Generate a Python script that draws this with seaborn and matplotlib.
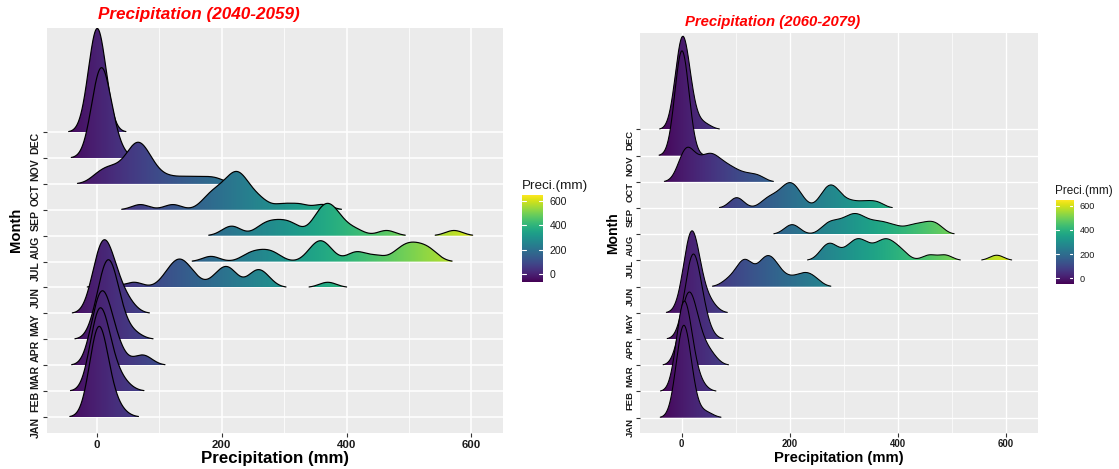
import numpy as np
import pandas as pd
import matplotlib
matplotlib.use("Agg")
import matplotlib.pyplot as plt
import seaborn as sns
from matplotlib.patches import Polygon
from matplotlib.colors import Normalize

# ---------------- data ----------------
MONTHS = ["JAN", "FEB", "MAR", "APR", "MAY", "JUN", "JUL", "AUG", "SEP", "OCT", "NOV", "DEC"]
X_TICKS = [0, 200, 400, 600]
X_MINOR = [100, 300, 500]
LEGEND_TICKS = [0, 200, 400, 600]
TITLES = ["Precipitation (2040-2059)", "Precipitation (2060-2079)"]
X_LABEL = "Precipitation (mm)"
Y_LABEL = "Month"
LEGEND_TITLE = "Preci.(mm)"

# monthly precipitation (mm), one value per year, 2040-2059
P40_JAN = [0, 0, 0, 0, 0, 0, 0, 0, 1, 2, 3, 4, 5, 6, 8, 10, 13, 17, 24, 36]
P40_FEB = [0, 0, 0, 0, 0, 0, 1, 2, 3, 5, 6, 8, 10, 12, 14, 17, 20, 25, 32, 45]
P40_MAR = [0, 0, 0, 0, 2, 4, 5, 7, 9, 10, 12, 14, 16, 18, 21, 25, 30, 38, 70, 78]
P40_APR = [0, 3, 7, 10, 12, 14, 15, 17, 18, 19, 20, 21, 22, 24, 26, 28, 31, 35, 42, 60]
P40_MAY = [0, 0, 0, 2, 4, 6, 8, 10, 12, 14, 15, 17, 19, 21, 24, 27, 31, 36, 44, 53]
P40_JUN = [15, 60, 110, 120, 126, 131, 135, 140, 147, 158, 190, 200, 208, 212, 218, 250, 256, 262, 272, 370]
P40_JUL = [183, 242, 258, 272, 286, 344, 352, 358, 365, 372, 410, 422, 448, 480, 492, 500, 508, 518, 528, 538]
P40_AUG = [210, 222, 262, 274, 285, 296, 307, 318, 348, 356, 362, 366, 370, 374, 379, 386, 395, 415, 464, 572]
P40_SEP = [70, 122, 175, 184, 192, 200, 207, 213, 218, 222, 225, 228, 232, 237, 244, 254, 266, 298, 325, 362]
P40_OCT = [0, 12, 22, 30, 42, 50, 55, 59, 63, 66, 69, 72, 76, 81, 88, 97, 118, 142, 166, 190]
P40_NOV = [0, 0, 0, 1, 2, 3, 4, 5, 6, 7, 8, 9, 10, 11, 12, 14, 16, 19, 25, 32]
P40_DEC = [0, 0, 0, 0, 0, 0, 0, 0, 0, 0, 0, 0, 1, 1, 1, 2, 2, 3, 4, 5]

# monthly precipitation (mm), one value per year, 2060-2079
P60_JAN = [0, 0, 0, 0, 0, 0, 0, 1, 2, 3, 4, 5, 6, 7, 8, 9, 11, 14, 20, 45]
P60_FEB = [0, 0, 0, 0, 0, 0, 1, 2, 3, 4, 5, 6, 7, 8, 10, 12, 14, 17, 22, 35]
P60_MAR = [0, 0, 3, 6, 8, 10, 12, 13, 14, 15, 16, 18, 20, 22, 25, 28, 33, 40, 48, 58]
P60_APR = [5, 10, 13, 15, 17, 18, 19, 20, 21, 21, 22, 23, 24, 25, 27, 29, 32, 36, 40, 47]
P60_MAY = [4, 8, 11, 13, 15, 16, 17, 18, 19, 19, 20, 21, 22, 23, 25, 28, 32, 37, 45, 56]
P60_JUN = [85, 103, 109, 114, 119, 123, 127, 145, 150, 154, 158, 163, 170, 172, 180, 195, 212, 226, 234, 248]
P60_JUL = [262, 270, 277, 286, 306, 316, 323, 329, 336, 345, 358, 368, 375, 381, 388, 398, 410, 458, 488, 583]
P60_AUG = [199, 210, 266, 277, 289, 301, 311, 318, 325, 333, 343, 356, 368, 381, 398, 421, 437, 452, 464, 476]
P60_SEP = [100, 104, 155, 168, 180, 190, 196, 201, 206, 212, 222, 260, 268, 274, 279, 285, 295, 316, 340, 362]
P60_OCT = [0, 3, 6, 9, 12, 16, 22, 30, 38, 45, 50, 55, 60, 66, 74, 82, 92, 104, 122, 142]
P60_NOV = [0, 0, 0, 0, 0, 0, 0, 0, 0, 0, 0, 0, 0, 0, 1, 1, 2, 2, 3, 4]
P60_DEC = [0, 0, 0, 0, 0, 0, 0, 0, 0, 0, 0, 1, 2, 3, 4, 6, 9, 14, 20, 42]


def to_long(period, lists):
    rows = []
    for m, vals in zip(MONTHS, lists):
        rows += [(period, m, float(v)) for v in vals]
    return pd.DataFrame(rows, columns=["period", "month", "precip"])


df40 = to_long("2040-2059", [P40_JAN, P40_FEB, P40_MAR, P40_APR, P40_MAY, P40_JUN,
                             P40_JUL, P40_AUG, P40_SEP, P40_OCT, P40_NOV, P40_DEC])
df60 = to_long("2060-2079", [P60_JAN, P60_FEB, P60_MAR, P60_APR, P60_MAY, P60_JUN,
                             P60_JUL, P60_AUG, P60_SEP, P60_OCT, P60_NOV, P60_DEC])

# ---------------- style ----------------
sns.set_style("darkgrid")
plt.rcParams["font.family"] = ["Liberation Sans", "DejaVu Sans"]
TXT = "#1A1A1A"

W, H = 1119, 469
fig = plt.figure(figsize=(W / 100, H / 100), dpi=100, facecolor="white")


def fx(px):
    return px / W


def fy(py):
    return 1 - py / H


def runs(mask):
    edges = np.flatnonzero(np.diff(np.r_[0, mask.astype(int), 0]))
    return list(zip(edges[::2], edges[1::2]))


def ridge_curves(df, bw):
    tmp_fig, tmp_ax = plt.subplots()
    out = {}
    for m in MONTHS:
        vals = df.loc[df["month"] == m, "precip"].to_numpy(float)
        sns.kdeplot(x=vals, bw_method=bw / vals.std(ddof=1), cut=4, gridsize=2000, ax=tmp_ax)
        ln = tmp_ax.lines[-1]
        out[m] = (np.asarray(ln.get_xdata(), float), np.asarray(ln.get_ydata(), float))
    plt.close(tmp_fig)
    return out


SPEC = [
    dict(df=df40, bw=14, box=(46.7, 27.7, 502.7, 432.7), xlim=(-80, 650), ylim=(0.394, 16.03),
         flim=(-63, 646), cbar=(521.7, 195, 542.7, 281.7), ltitle=(522, 186), title=(98, 15),
         fs_title=12.3, fs_xlab=12.2, fs_ylab=10.6, fs_xt=8.2, fs_yt=7.6, fs_lt=9.7, fs_ll=7.6,
         xlab_y=458, ylab_x=16.3, s=1.0),
    dict(df=df60, bw=13, box=(640, 33.3, 1038.3, 432.7), xlim=(-77, 660), ylim=(0.427, 15.67),
         flim=(-47, 647), cbar=(1055.7, 200, 1073.3, 284), ltitle=(1055, 190.7), title=(685, 22.3),
         fs_title=10.7, fs_xlab=10.7, fs_ylab=10.1, fs_xt=6.9, fs_yt=6.8, fs_lt=8.5, fs_ll=6.6,
         xlab_y=458.3, ylab_x=613.5, s=0.87),
]

for sp, title in zip(SPEC, TITLES):
    x0, y0, x1, y1 = sp["box"]
    s = sp["s"]
    ax = fig.add_axes([fx(x0), fy(y1), (x1 - x0) / W, (y1 - y0) / H])
    ax.set_facecolor("#EBEBEB")
    for spine in ax.spines.values():
        spine.set_visible(False)
    flim = sp["flim"]
    norm = Normalize(*flim)
    grad = np.linspace(flim[0], flim[1], 700)[None, :]

    curves = ridge_curves(sp["df"], sp["bw"])
    gmax = max(d.max() for _, d in curves.values())
    sf = 4.0 / gmax
    thr = 0.005 * gmax
    for k in range(12, 0, -1):
        m = MONTHS[k - 1]
        x, d = curves[m]
        z = 3 + (12 - k) * 2
        for a, b in runs(d >= thr):
            xs = x[a:b]
            ys = k + d[a:b] * sf
            verts = np.column_stack([np.r_[xs, xs[-1], xs[0]], np.r_[ys, k, k]])
            poly = Polygon(verts, closed=True, facecolor="none", edgecolor="none")
            ax.add_patch(poly)
            im = ax.imshow(grad, extent=(flim[0], flim[1], k, k + 4.5), origin="lower",
                           aspect="auto", cmap="viridis", norm=norm,
                           interpolation="bilinear", zorder=z)
            im.set_clip_path(poly)
            ax.plot(xs, ys, color="black", lw=0.75 * s + 0.1, zorder=z + 1)

    ax.set_xlim(*sp["xlim"])
    ax.set_ylim(*sp["ylim"])
    ax.set_xticks(X_TICKS)
    ax.set_xticks(X_MINOR, minor=True)
    ax.set_yticks(range(1, 13))
    ax.set_yticklabels(MONTHS)
    ax.set_axisbelow(True)
    ax.grid(which="major", color="white", lw=1.1 * s)
    ax.grid(which="minor", axis="x", color="white", lw=0.55 * s)
    ax.grid(which="minor", axis="y", visible=False)
    ax.tick_params(which="major", bottom=True, left=True, length=3 * s, width=0.8,
                   color="#333333", labelcolor=TXT)
    ax.tick_params(which="minor", length=0)
    ax.tick_params(axis="x", labelsize=sp["fs_xt"], pad=2.5 * s)
    ax.tick_params(axis="y", labelsize=sp["fs_yt"], pad=1.5 * s)
    for lbl in ax.get_xticklabels():
        lbl.set_fontweight("bold")
    for lbl in ax.get_yticklabels():
        lbl.set_fontweight("bold")
        lbl.set_rotation(90)
        lbl.set_va("top")
        lbl.set_ha("right")

    # titles
    fig.text(fx(sp["title"][0]), fy(sp["title"][1]), title, ha="left", va="center",
             color="red", fontweight="bold", fontstyle="italic", fontsize=sp["fs_title"])
    fig.text(fx((x0 + x1) / 2), fy(sp["xlab_y"]), X_LABEL, ha="center", va="center",
             fontweight="bold", fontsize=sp["fs_xlab"], color="black")
    fig.text(fx(sp["ylab_x"]), fy((y0 + y1) / 2), Y_LABEL, ha="center", va="center",
             rotation=90, fontweight="bold", fontsize=sp["fs_ylab"], color="black")

    # colour bar legend
    cx0, cy0, cx1, cy1 = sp["cbar"]
    cax = fig.add_axes([fx(cx0), fy(cy1), (cx1 - cx0) / W, (cy1 - cy0) / H])
    cax.imshow(np.linspace(flim[0], flim[1], 256)[:, None], extent=(0, 1, flim[0], flim[1]),
               origin="lower", aspect="auto", cmap="viridis", norm=norm)
    cax.set_xlim(0, 1)
    cax.set_ylim(*flim)
    cax.grid(False)
    for spine in cax.spines.values():
        spine.set_visible(False)
    cax.set_xticks([])
    cax.yaxis.tick_right()
    cax.set_yticks(LEGEND_TICKS)
    cax.tick_params(axis="y", which="both", left=False, right=False, length=0,
                    labelsize=sp["fs_ll"], pad=5 * s, labelcolor=TXT)
    for t in LEGEND_TICKS:
        cax.plot([0, 0.2], [t, t], color="white", lw=0.8)
        cax.plot([0.8, 1], [t, t], color="white", lw=0.8)
    fig.text(fx(sp["ltitle"][0]), fy(sp["ltitle"][1]), LEGEND_TITLE, ha="left", va="center",
             fontsize=sp["fs_lt"], color=TXT)

fig.savefig("out.png", dpi=100, facecolor="white")
